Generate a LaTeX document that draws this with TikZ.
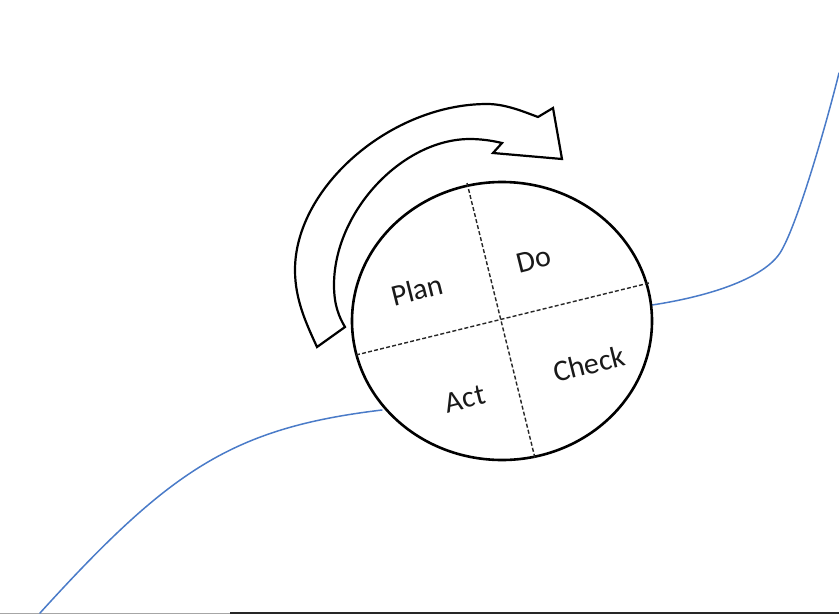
\documentclass[tikz,border=0pt]{standalone}
\usepackage{fontspec}
\setmainfont{Carlito}
\usetikzlibrary{shapes.geometric}
\definecolor{curveblue}{HTML}{4A7BC8}
\tikzset{
  growth/.style={draw=curveblue, line width=1.5pt, line cap=round},
  divider/.style={draw=black!85, line width=1.4pt, dash pattern=on 4pt off 2.2pt},
  label/.style={font=\fontsize{30}{36}\selectfont, text=black!90, rotate=14, inner sep=0pt},
  cyclearrow/.style={draw=black, fill=white, line width=2.2pt, line join=miter},
}
\begin{document}
\begin{tikzpicture}[x=1pt, y=-1pt]
\useasboundingbox (0,0) rectangle (839,614);
% bottom edge line
\draw[black!35, line width=1pt] (0,613) -- (230,613);
\draw[black!85, line width=1.2pt] (230,613) -- (839,613);
% growth curve
\draw[growth] (40,613) .. controls (170,470) and (232,428) .. (382,410);
\draw[growth] (652,305) .. controls (705,297) and (762,280) .. (780,253)
  .. controls (796,228) and (824,133) .. (839,73);
% PDCA circle
\node[draw, ellipse, fill=white, line width=2.6pt, inner sep=0pt, minimum width=300pt, minimum height=278pt] (cyc) at (502,321) {};
\draw[divider] (467,183) -- (535,458);
\draw[divider] (356,355) -- (649,283);
% labels
\node[label] (plan) at (417,290) {Plan};
\node[label] (do) at (534,260) {Do};
\node[label] (act) at (465,399) {Act};
\node[label] (check) at (589,364) {Check};
% curved arrow
\draw[cyclearrow]
  (317,347) .. controls (306.5,324) and (295,300) .. (295,270)
  .. controls (295,187) and (391,104) .. (487,104)
  .. controls (505,104) and (522,111) .. (538,117)
  -- (553,108) -- (562,159) -- (493,153) -- (502,143)
  .. controls (492,140.5) and (480,139) .. (470,139)
  .. controls (402,139) and (334,212) .. (334,285)
  .. controls (334,305) and (339,317) .. (345,327)
  -- cycle;
\end{tikzpicture}
\end{document}
